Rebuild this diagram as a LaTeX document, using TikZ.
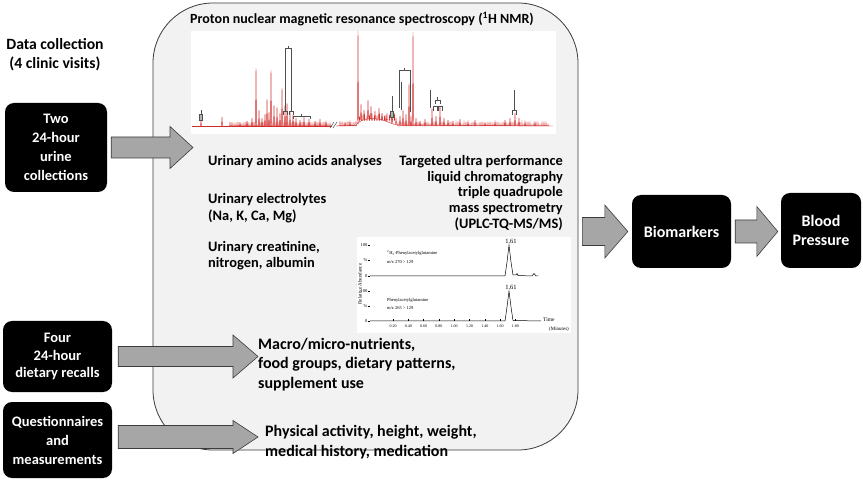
\documentclass[tikz,border=0pt]{standalone}
\usepackage{fontspec}
\setmainfont{Carlito}
\newfontfamily\chromfont{Liberation Serif}
\usetikzlibrary{calc}
\definecolor{panelgray}{RGB}{242,242,242}
\definecolor{arrowgray}{RGB}{166,166,166}
\definecolor{edgegray}{RGB}{60,60,60}
\definecolor{specred}{RGB}{210,45,45}
\definecolor{brackgray}{RGB}{80,80,80}
\newcommand\blockarr[5]{%
  \filldraw[arrowstyle] ($(#1)+(0,-#3)$) -- ($(#2)+(-#5,-#3)$) -- ($(#2)+(-#5,-#4)$) -- (#2)
    -- ($(#2)+(-#5,#4)$) -- ($(#2)+(-#5,#3)$) -- ($(#1)+(0,#3)$) -- cycle;}
\begin{document}
\begin{tikzpicture}[x=1pt,y=-1pt,
  arrowstyle/.style={fill=arrowgray,draw=edgegray,line width=0.6pt},
  darkbox/.style={fill=black,rounded corners=9pt,text=white,align=center,inner sep=0pt,
    font=\bfseries\fontsize{14.5}{19}\selectfont},
  bigbox/.style={darkbox,font=\bfseries\fontsize{16}{18.5}\selectfont},
  panel/.style={fill=panelgray,draw=edgegray,line width=0.8pt,rounded corners=60pt,inner sep=0pt},
  bodytext/.style={font=\bfseries\fontsize{14.4}{16.5}\selectfont,inner sep=0pt},
  lowtext/.style={font=\bfseries\fontsize{16}{19.5}\selectfont,inner sep=0pt},
  spec/.style={specred,line width=0.45pt},
  brack/.style={brackgray,line width=0.6pt},
  chrom/.style={font=\chromfont\fontsize{4.5}{5}\selectfont,inner sep=0pt},
  trace/.style={black,line width=0.5pt}]
\useasboundingbox (0,0) rectangle (863,481);
\fill[white] (0,0) rectangle (863,481);

% panel
\node[panel,minimum width=425pt,minimum height=447pt] (panel) at (365.5,226.5) {};

% left heading
\node[align=center,inner sep=0pt,font=\bfseries\fontsize{15.7}{19}\selectfont] (head) at (55,54.5) {Data collection\\(4 clinic visits)};

% dark boxes
\node[darkbox,minimum width=102pt,minimum height=89pt] (urine) at (56,147.5) {Two\\24-hour\\urine\\collections};
\node[darkbox,minimum width=109pt,minimum height=71pt,font=\bfseries\fontsize{14.5}{17.5}\selectfont] (diet) at (57.5,356.5) {Four\\24-hour\\dietary recalls};
\node[darkbox,minimum width=109pt,minimum height=76pt] (quest) at (57.5,440) {Questionnaires\\and\\measurements};
\node[bigbox,minimum width=99pt,minimum height=73pt] (bio) at (681.5,231.5) {Biomarkers};
\node[bigbox,minimum width=80pt,minimum height=75pt] (bp) at (821,230.5) {Blood\\Pressure};

% block arrows
\coordinate (a1s) at ($(urine.east)+(4,0)$);
\coordinate (a1t) at (193,147.5);
\blockarr{a1s}{a1t}{10.5}{21}{23}
\coordinate (a2s) at ($(diet.east)+(6,0)$);
\coordinate (a2t) at (258,356.5);
\blockarr{a2s}{a2t}{10}{21.5}{25}
\coordinate (a3s) at ($(quest.east)+(6,-3)$);
\coordinate (a3t) at (258,437);
\blockarr{a3s}{a3t}{11.5}{16.5}{25}
\coordinate (a4s) at ($(panel.east |- bio.west)+(4,0)$);
\coordinate (a4t) at ($(bio.west)+(-4,0)$);
\blockarr{a4s}{a4t}{14}{26.5}{23}
\coordinate (a5s) at ($(bio.east)+(4,0)$);
\coordinate (a5t) at ($(bp.west)+(-3,1)$);
\blockarr{a5s}{a5t}{11.5}{25}{21}

% NMR title
\node[inner sep=0pt,font=\bfseries\fontsize{14}{16}\selectfont] (nmrtitle) at (362,19) {Proton nuclear magnetic resonance spectroscopy (\textsuperscript{1}H NMR)};

% NMR spectrum
\fill[white] (191,31) rectangle (556,134);
\draw[spec] (192,126) -- (332,126);
\draw[spec] (336,126) -- (356,125.5) .. controls (360,119) and (368,118) .. (378,119) .. controls (386,120) and (390,124) .. (398,125) -- (553,126);
% fine texture of small peaks
\foreach \x in {230,232,...,330,398,400,...,548}
  \draw[spec,line width=0.35pt] (\x-0.4,126) -- (\x,{126-1.5-3*abs(sin(\x*23))}) -- (\x+0.4,126);
\foreach \x in {340,342,...,356}
  \draw[spec,line width=0.35pt] (\x-0.4,126) -- (\x,{125-1.5-2.5*abs(sin(\x*23))}) -- (\x+0.4,126);
\foreach \x in {359.5,362,...,396}
  \draw[spec,line width=0.35pt] (\x-0.4,120.5) -- (\x,{117-4*abs(sin(\x*23))}) -- (\x+0.4,120.5);
\foreach \x/\t/\b in {201/120/126,222/117/126,240/124/126,247/121/126,252/118/126,256/68/126,259/110/126,
  262/118/126,265/114/126,267/99/126,269/112/126,271/70/126,274/105/126,277/107/126,280/113/126,282/88/126,
  285/105/126,287/103/126,290/112/126,293/115/126,296/118/126,300/120/126,304/117/126,309/119/126,
  315/121/126,320/119/126,326/122/126,345/123/126,350/122/126,358/31/124,361/104/120,364/110/119,
  368/100/119,371/106/119,375/111/119,379/108/119,382/113/120,386/115/121,392/112/123,396/118/124,
  400/116/125,403/110/125,406/114/126,409/83/126,411/116/126,413/32/126,416/118/126,420/121/126,
  425/119/126,432/108/126,436/116/126,440/106/126,444/118/126,448/120/126,453/121/126,460/119/126,
  468/122/126,475/120/126,485/123/126,495/122/126,505/120/126,510/118/126,515/113/126,519/118/126,
  525/122/126,535/123/126}
  \draw[spec] (\x-0.5,\b) -- (\x,\t) -- (\x+0.5,\b);
% break mark
\draw[brackgray,line width=0.5pt] (330,128) -- (334,122) (333,128) -- (337,122);
% brackets
\draw[brack] (201,110) -- (201,114);
\draw[brack,fill=gray!60] (199.5,114) rectangle (202.5,120);
\draw[brack] (285,111) -- (285,48) -- (291,48) -- (291,111) (288,48) -- (288,46);
\draw[brack] (283,115) -- (283,111) -- (287,111) -- (287,115) (289,115) -- (289,111) -- (293,111) -- (293,115);
\draw[brack] (293,119) -- (293,116) -- (310,116) -- (310,119) (301,116) -- (301,114);
\draw[brack] (392,96) -- (392,111);
\draw[brack,fill=gray!60] (390.5,111) rectangle (393.5,117);
\draw[brack] (399,108) -- (399,70) -- (410,70) -- (410,112) (404.5,70) -- (404.5,68);
\draw[brack] (401.5,110) -- (401.5,82);
\draw[brack] (430,90) -- (430,108);
\draw[brack] (435,104) -- (435,100) -- (440,100) -- (440,104) (437.5,100) -- (437.5,97);
\draw[brack] (433,111) -- (433,106) -- (437,106) -- (437,111) (438,111) -- (438,106) -- (442,106) -- (442,111);
\draw[brack] (514,90) -- (514,106);
\draw[brack] (512,115) -- (512,110) -- (516,110) -- (516,115) (514,110) -- (514,106);

% urinary texts
\node[bodytext,anchor=west] (amino) at (208,162) {Urinary amino acids analyses};
\node[bodytext,anchor=west,align=left] (electro) at (208,208) {Urinary electrolytes\\(Na, K, Ca, Mg)};
\node[bodytext,anchor=west,align=left] (creat) at (208,255.5) {Urinary creatinine,\\nitrogen, albumin};
\node[bodytext,anchor=east,align=right,font=\bfseries\fontsize{14.4}{15.8}\selectfont] (uplc) at (563,193) {Targeted ultra performance\\liquid chromatography\\triple quadrupole\\mass spectrometry\\(UPLC-TQ-MS/MS)};

% chromatogram
\fill[white] (357,237) rectangle (571,333);
\draw[trace] (370,276) -- (505,276) -- (507,262) -- (509,245) -- (511,262) -- (513,275) -- (516,275) -- (517,273.5) -- (518,275.5) -- (532,276) -- (534,273.5) -- (536,276) -- (538,276);
\draw[trace] (370,321) -- (505,321) -- (507,307) -- (509,291) -- (511,307) -- (513,320.5) -- (541,321);
\foreach \y in {245,260,276,291,306,321} \draw[trace,line width=0.3pt] (368,\y) -- (370,\y);
\node[chrom,anchor=east] (u100) at (367.5,245) {100};
\node[chrom,anchor=east] (upc) at (367.5,260) {\%};
\node[chrom,anchor=east] (u0) at (367.5,276) {0};
\node[chrom,anchor=east] (l100) at (367.5,291) {100};
\node[chrom,anchor=east] (lpc) at (367.5,306) {\%};
\node[chrom,anchor=east] (l0) at (367.5,321) {0};
\node[chrom,rotate=90,font=\chromfont\fontsize{5}{6}\selectfont] (relab) at (360,284) {Relative Abundance};
\node[chrom,anchor=west] (lab1) at (387,253) {\textsuperscript{2}H\textsubscript{5}-Phenylacetylglutamine};
\node[chrom,anchor=west] (lab2) at (387,262) {m/z 270 > 129};
\node[chrom,anchor=west] (lab3) at (387,300) {Phenylacetylglutamine};
\node[chrom,anchor=west] (lab4) at (387,308) {m/z 265 > 129};
\node[chrom,font=\chromfont\fontsize{6.5}{7}\selectfont] (p1) at (511,241) {1.61};
\node[chrom,font=\chromfont\fontsize{6.5}{7}\selectfont] (p2) at (511,287) {1.61};
\foreach \v [count=\i from 0] in {0.20,0.40,0.60,0.80,1.00,1.20,1.40,1.60,1.80} {
  \draw[trace,line width=0.3pt] (393+15.3*\i,321) -- (393+15.3*\i,319.5);
  \node[chrom,font=\chromfont\fontsize{4}{5}\selectfont] at (393+15.3*\i,326) {\v};
}
\node[chrom,font=\chromfont\fontsize{5.5}{6}\selectfont,anchor=west] (time) at (543,320) {Time};
\node[chrom,font=\chromfont\fontsize{5}{6}\selectfont] (minutes) at (559,329) {(Minutes)};

% diet / questionnaire texts
\node[lowtext,anchor=west,align=left] (macro) at (258,364.5) {Macro/micro-nutrients,\\food groups, dietary patterns,\\supplement use};
\node[lowtext,anchor=west,align=left] (phys) at (265,442) {Physical activity, height, weight,\\medical history, medication};
\end{tikzpicture}
\end{document}
